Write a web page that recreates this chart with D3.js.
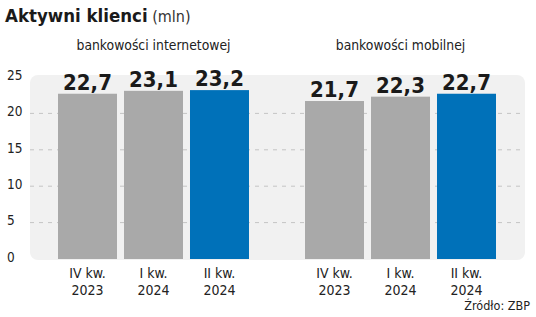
<!DOCTYPE html>
<html>
<head>
<meta charset="utf-8">
<script src="https://cdn.jsdelivr.net/npm/d3@7"></script>
<style>
body { margin: 0; background: #fff; }
svg { font-family: "DejaVu Sans Condensed", "DejaVu Sans", sans-serif; font-stretch: condensed; }
</style>
</head>
<body>
<svg id="chart" width="536" height="317"></svg>
<script>
// data
var groups = ["bankowości internetowej", "bankowości mobilnej"]
var quarters = [["IV kw.", "2023"], ["I kw.", "2024"], ["II kw.", "2024"]]
var internet = [22.7, 23.1, 23.2]
var mobile = [21.7, 22.3, 22.7]
var yTicks = [0, 5, 10, 15, 20, 25]

var series = [internet, mobile]
var svg = d3.select("#chart")

// title
var title = svg.append("text").attr("x", 5).attr("y", 22)
title.append("tspan").attr("font-size", "18.5px").attr("font-weight", "bold").attr("fill", "#1a1a1a").text("Aktywni klienci")
title.append("tspan").attr("font-size", "16px").attr("fill", "#333").text(" (mln)")

var y = d3.scaleLinear().domain([0, 25]).range([259, 77])
var x0 = d3.scaleBand().domain(groups).range([30, 524])
var x1 = d3.scaleBand().domain(d3.range(quarters.length))
	.range([(x0.bandwidth() - 191) / 2, (x0.bandwidth() + 191) / 2])
	.paddingInner(0.106)

// background panel
svg.append("rect")
	.attr("x", 30).attr("y", y(25) - 2)
	.attr("width", 495).attr("height", y(0) - y(25) + 3)
	.attr("rx", 8)
	.attr("fill", "#f1f1f1")

// grid
svg.append("g").selectAll("line").data(yTicks.filter(d => d > 0 && d < 25)).enter().append("line")
	.attr("x1", 30).attr("x2", 525)
	.attr("y1", d => y(d)).attr("y2", d => y(d))
	.attr("stroke", "#c4c4c4")
	.attr("stroke-dasharray", "4,5")

// y labels
svg.append("g").selectAll("text").data(yTicks).enter().append("text")
	.attr("x", 7)
	.attr("y", d => y(d) - 2)
	.attr("dy", "0.35em")
	.attr("font-size", "13.5px")
	.attr("fill", "#222")
	.text(d => d)

// groups
var g = svg.selectAll(".grp").data(groups).enter().append("g")
	.attr("class", "grp")
	.attr("transform", d => "translate(" + x0(d) + ",0)")

g.append("text")
	.attr("x", x0.bandwidth() / 2)
	.attr("y", 50)
	.attr("text-anchor", "middle")
	.attr("font-size", "13.8px")
	.attr("fill", "#222")
	.text(d => d)

g.each(function (gname, gi) {
	var vals = series[gi].map((v, i) => ({ v: v, i: i }))
	var sel = d3.select(this)
	sel.selectAll("rect").data(vals).enter().append("rect")
		.attr("x", d => x1(d.i))
		.attr("width", x1.bandwidth())
		.attr("y", d => y(d.v))
		.attr("height", d => y(0) - y(d.v))
		.attr("fill", d => d.i === quarters.length - 1 ? "#0071b9" : "#a9a9a9")
	sel.selectAll(".val").data(vals).enter().append("text")
		.attr("class", "val")
		.attr("x", d => x1(d.i) + x1.bandwidth() / 2)
		.attr("y", d => y(d.v) - 4)
		.attr("text-anchor", "middle")
		.attr("font-size", "22px")
		.attr("font-weight", "bold")
		.attr("fill", "#1a1a1a")
		.text(d => d3.format(".1f")(d.v).replace(".", ","))
	var lab = sel.selectAll(".xl").data(vals).enter().append("text")
		.attr("class", "xl")
		.attr("text-anchor", "middle")
		.attr("font-size", "14px")
		.attr("fill", "#222")
	lab.append("tspan")
		.attr("x", d => x1(d.i) + x1.bandwidth() / 2)
		.attr("y", 278)
		.text(d => quarters[d.i][0])
	lab.append("tspan")
		.attr("x", d => x1(d.i) + x1.bandwidth() / 2)
		.attr("y", 295)
		.text(d => quarters[d.i][1])
})

// source
svg.append("text")
	.attr("x", 530).attr("y", 310)
	.attr("text-anchor", "end")
	.attr("font-size", "12.5px")
	.attr("fill", "#222")
	.text("Źródło: ZBP")
</script>
</body>
</html>
